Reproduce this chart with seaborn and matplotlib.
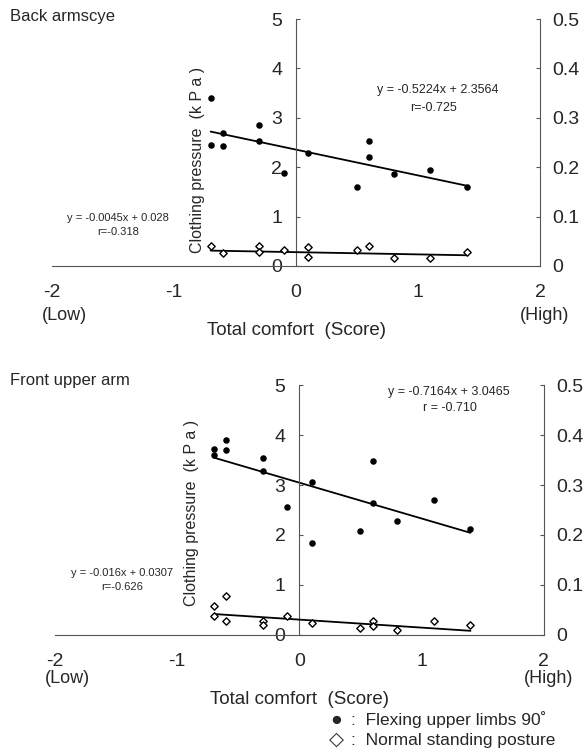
import matplotlib
matplotlib.use("Agg")
import matplotlib.pyplot as plt
import seaborn as sns

# ---- data ----
back_flex_x = [-0.7, -0.7, -0.6, -0.6, -0.3, -0.3, -0.1, 0.1, 0.5, 0.6, 0.6, 0.8, 1.1, 1.4]
back_flex_y = [3.41, 2.45, 2.69, 2.43, 2.86, 2.54, 1.88, 2.29, 1.59, 2.54, 2.21, 1.86, 1.94, 1.60]
back_stand_x = [-0.7, -0.6, -0.3, -0.3, -0.1, 0.1, 0.1, 0.5, 0.6, 0.8, 1.1, 1.4]
back_stand_y = [0.041, 0.026, 0.040, 0.028, 0.032, 0.039, 0.019, 0.032, 0.041, 0.016, 0.016, 0.028]
back_flex_fit = (-0.5224, 2.3564)
back_stand_fit = (-0.0045, 0.028)
back_flex_eq = ["y = -0.5224x + 2.3564", "r=-0.725"]
back_stand_eq = ["y = -0.0045x + 0.028", "r=-0.318"]

front_flex_x = [-0.7, -0.7, -0.6, -0.6, -0.3, -0.3, -0.1, 0.1, 0.1, 0.5, 0.6, 0.6, 0.8, 1.1, 1.4]
front_flex_y = [3.72, 3.60, 3.91, 3.70, 3.55, 3.29, 2.57, 3.07, 1.83, 2.08, 3.49, 2.65, 2.27, 2.70, 2.11]
front_stand_x = [-0.7, -0.7, -0.6, -0.6, -0.3, -0.3, -0.1, 0.1, 0.5, 0.6, 0.6, 0.8, 1.1, 1.4]
front_stand_y = [0.058, 0.037, 0.077, 0.028, 0.028, 0.019, 0.037, 0.023, 0.013, 0.028, 0.017, 0.010, 0.027, 0.019]
front_flex_fit = (-0.7164, 3.0465)
front_stand_fit = (-0.016, 0.0307)
front_flex_eq = ["y = -0.7164x + 3.0465", "r = -0.710"]
front_stand_eq = ["y = -0.016x + 0.0307", "r=-0.626"]

x_ticks = [-2, -1, 0, 1, 2]
x_tick_labels = ["-2", "-1", "0", "1", "2"]
left_ticks = [0, 1, 2, 3, 4, 5]
left_tick_labels = ["0", "1", "2", "3", "4", "5"]
right_ticks = [0, 0.1, 0.2, 0.3, 0.4, 0.5]
right_tick_labels = ["0", "0.1", "0.2", "0.3", "0.4", "0.5"]

sns.set_style("white")
plt.rcParams["font.family"] = ["Liberation Sans", "DejaVu Sans"]

AXC = "#555555"


def fitLine(ax, xs, fit):
    lo, hi = min(xs), max(xs)
    sns.lineplot(x=[lo, hi], y=[fit[0] * lo + fit[1], fit[0] * hi + fit[1]],
                 ax=ax, color="black", linewidth=1.3)


def panel(ax, flex_x, flex_y, stand_x, stand_y, flex_fit, stand_fit,
          flex_eq, stand_eq, flex_eq_pos, stand_eq_pos, ylab_pos, lowhigh_off):
    ax.set_xlim(-2, 2)
    ax.set_ylim(0, 5)
    for s in ["top", "right"]:
        ax.spines[s].set_visible(False)
    ax.spines["left"].set_position(("data", 0))
    for s in ["left", "bottom"]:
        ax.spines[s].set_color(AXC)
        ax.spines[s].set_linewidth(0.8)
    ax.set_xticks(x_ticks, x_tick_labels)
    ax.set_yticks(left_ticks, left_tick_labels)
    ax.tick_params(axis="x", direction="in", length=3, pad=13, labelsize=14, color=AXC)
    ax.tick_params(axis="y", direction="in", length=3, pad=10, labelsize=14, color=AXC)

    axr = ax.twinx()
    axr.set_ylim(0, 0.5)
    for s in ["top", "left", "bottom"]:
        axr.spines[s].set_visible(False)
    axr.spines["right"].set_color(AXC)
    axr.spines["right"].set_linewidth(0.8)
    axr.set_yticks(right_ticks, right_tick_labels)
    axr.tick_params(axis="y", direction="in", length=3, pad=9, labelsize=14, color=AXC)

    sns.scatterplot(x=flex_x, y=flex_y, ax=ax, color="black", s=22, linewidth=0, zorder=3)
    fitLine(ax, flex_x, flex_fit)
    sns.scatterplot(x=stand_x, y=stand_y, ax=axr, marker="D", s=14, color="white",
                    edgecolor="black", linewidth=1.0, zorder=3)
    fitLine(axr, stand_x, stand_fit)
    axr.set_ylabel("")

    # regression equations
    ax.text(flex_eq_pos[0], flex_eq_pos[1], flex_eq[0], ha="center", va="center", fontsize=9)
    ax.text(flex_eq_pos[2], flex_eq_pos[3], flex_eq[1], ha="center", va="center", fontsize=9)
    ax.text(stand_eq_pos[0], stand_eq_pos[1], stand_eq[0], ha="center", va="center", fontsize=8)
    ax.text(stand_eq_pos[0], stand_eq_pos[2], stand_eq[1], ha="center", va="center", fontsize=8)

    ax.set_ylabel("Clothing pressure  (k P a )", fontsize=11.5)
    ax.yaxis.set_label_coords(ylab_pos[0], ylab_pos[1])
    ax.set_xlabel("Total comfort  (Score)", fontsize=13.5, labelpad=15)

    for xv, txt in [(-1.9, "(Low)"), (2.04, "(High)")]:
        ax.annotate(txt, xy=(xv, 0), xycoords=("data", "axes fraction"),
                    xytext=(0, -lowhigh_off), textcoords="offset points",
                    ha="center", va="center", fontsize=13)


fig = plt.figure(figsize=(5.86, 7.55), dpi=100)
ax1 = fig.add_axes([0.0887, 0.6477, 0.833, 0.327])
ax2 = fig.add_axes([0.0939, 0.159, 0.834, 0.331])

panel(ax1, back_flex_x, back_flex_y, back_stand_x, back_stand_y, back_flex_fit,
      back_stand_fit, back_flex_eq, back_stand_eq,
      (1.16, 3.56, 1.13, 3.2), (-1.46, 0.97, 0.69), (0.313, 0.43), 36)
panel(ax2, front_flex_x, front_flex_y, front_stand_x, front_stand_y, front_flex_fit,
      front_stand_fit, front_flex_eq, front_stand_eq,
      (1.225, 4.86, 1.23, 4.54), (-1.45, 1.24, 0.96), (0.295, 0.49), 31)

fig.text(10 / 586, 1 - 16 / 755, "Back armscye", fontsize=12, va="center")
fig.text(10 / 586, 1 - 380 / 755, "Front upper arm", fontsize=12, va="center")

fig.text(336 / 586, 1 - 720 / 755, "\u25cf", fontsize=14, va="center", ha="center")
fig.text(351 / 586, 1 - 720 / 755, ":  Flexing upper limbs 90\u02da", fontsize=12.5, va="center")
fig.text(336 / 586, 1 - 740 / 755, "\u25c7", fontsize=14, va="center", ha="center")
fig.text(351 / 586, 1 - 740 / 755, ":  Normal standing posture", fontsize=12.5, va="center")

fig.savefig("out.png", dpi=100, facecolor="white")
